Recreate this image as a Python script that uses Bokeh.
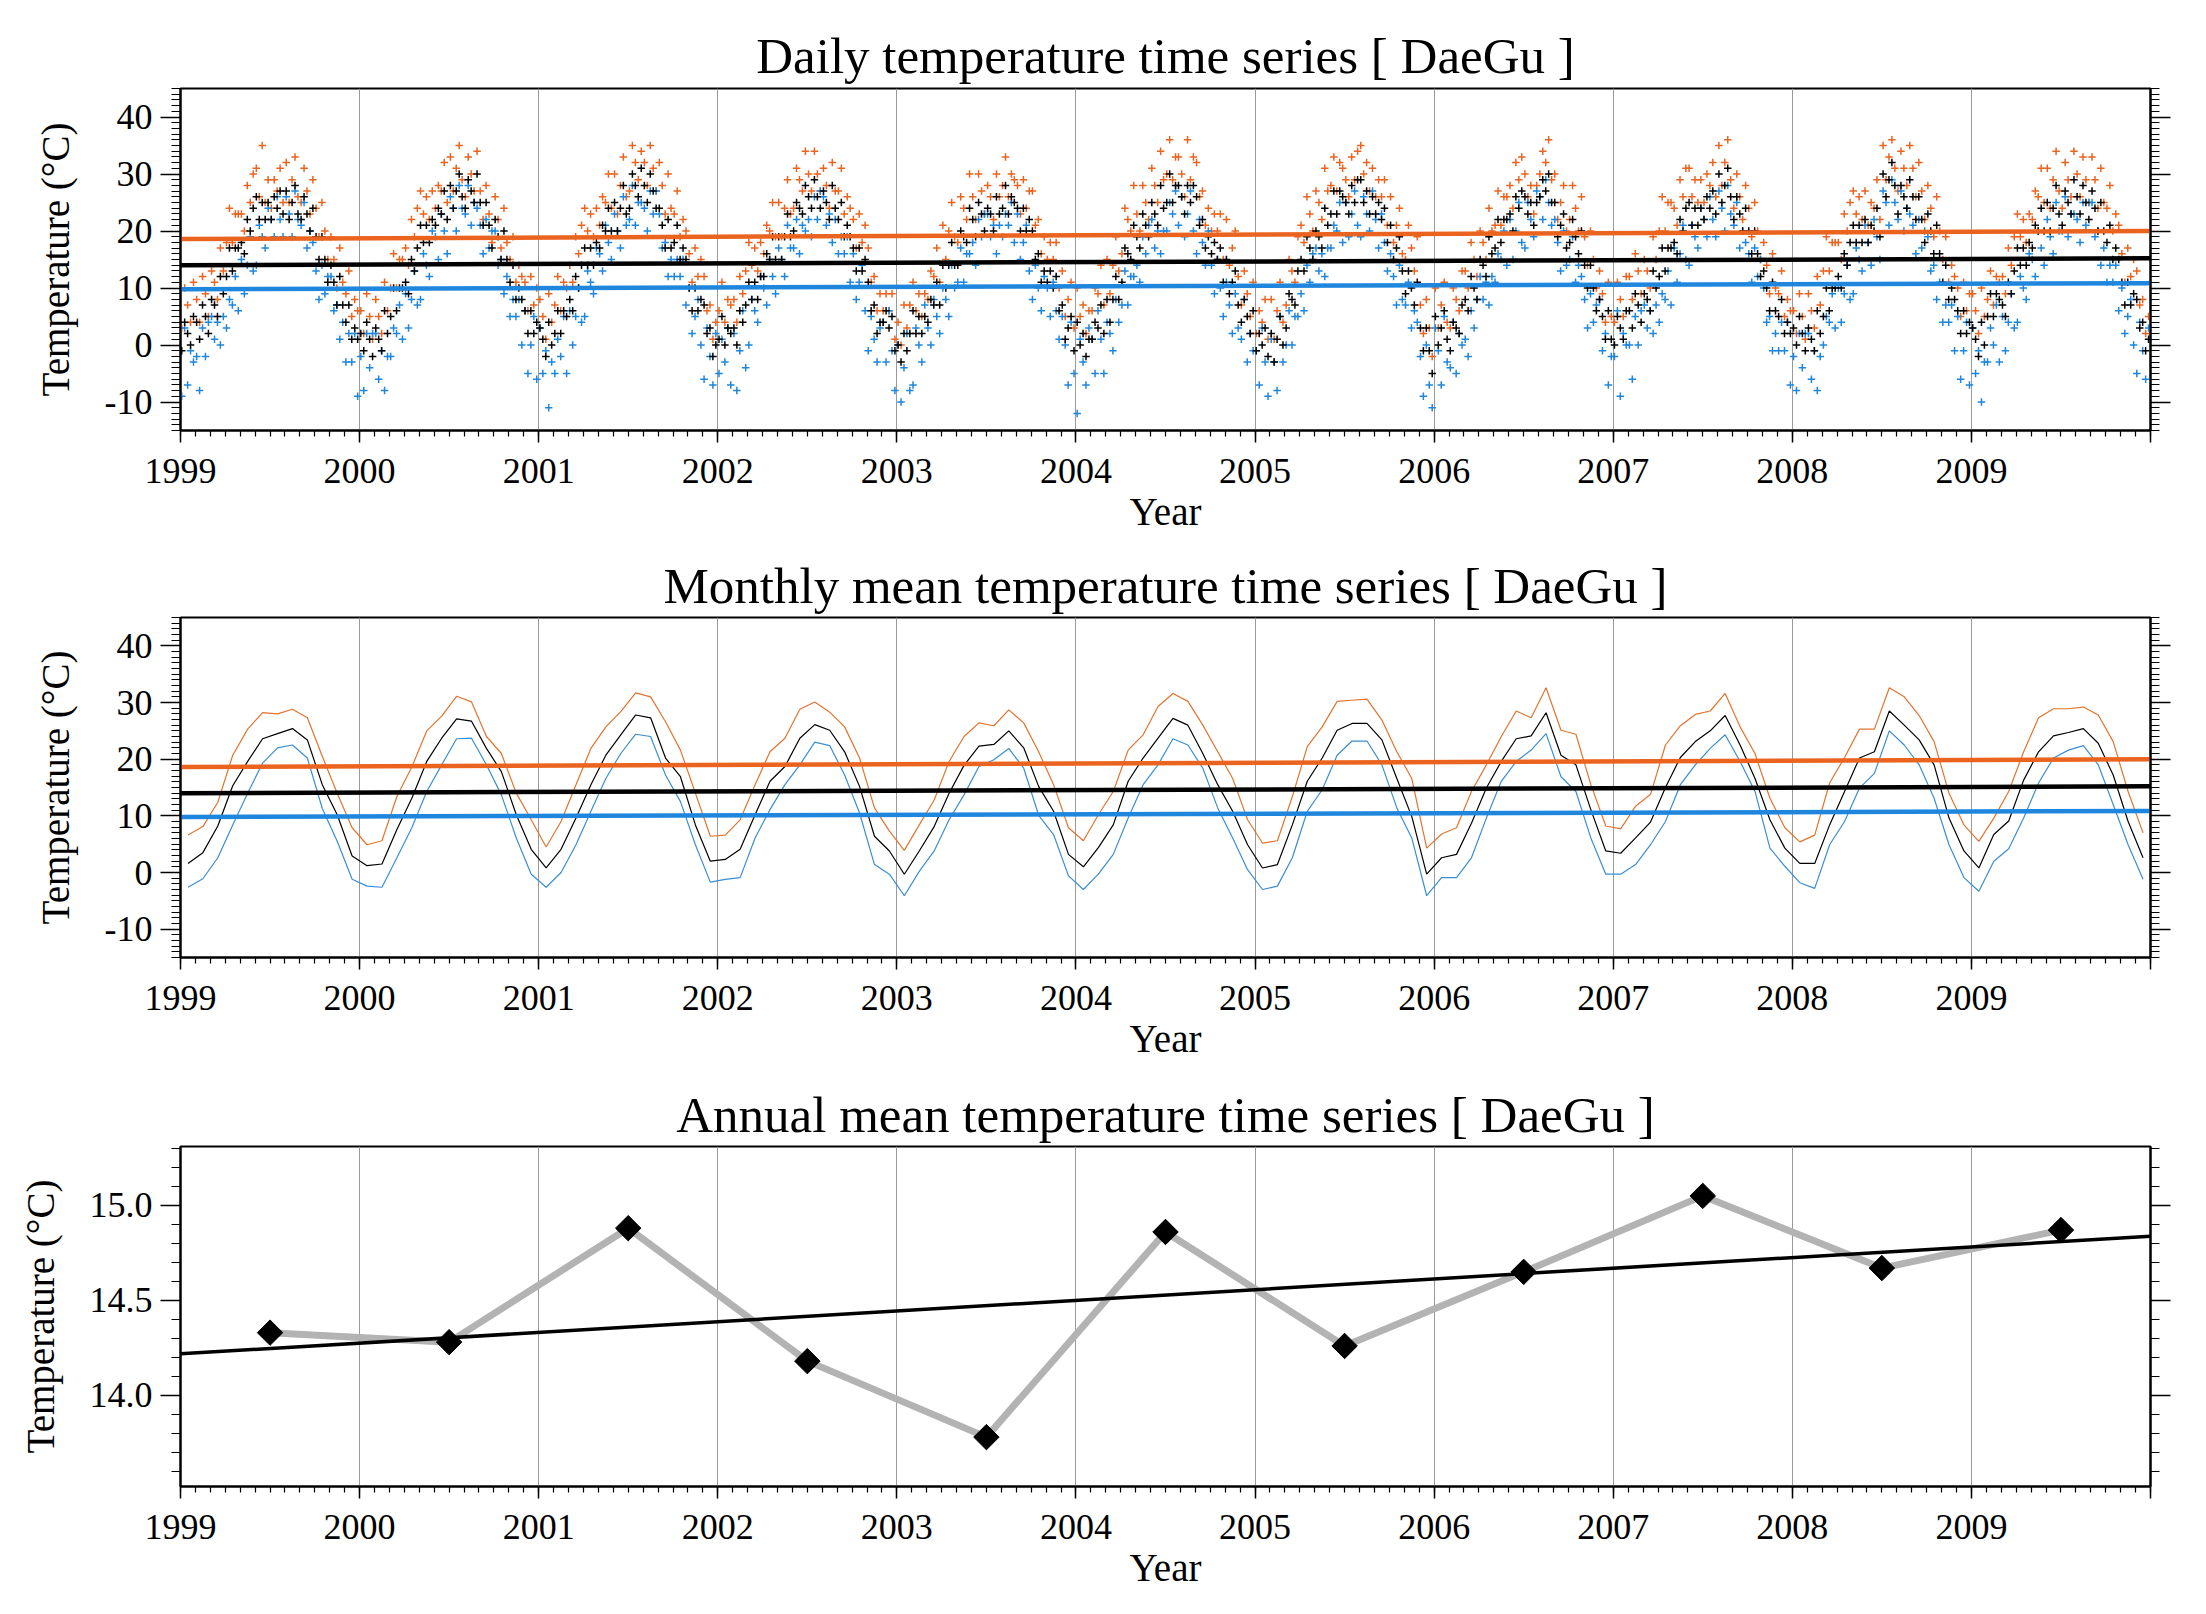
import numpy as np
from bokeh.plotting import figure
from bokeh.layouts import column
from bokeh.models import (FixedTicker, LinearAxis, Range1d, ColumnDataSource,
                          PrintfTickFormatter, CustomJSTickFormatter)
from bokeh.embed import file_html
from bokeh.resources import INLINE

# ---------------- data ----------------
years = list(range(1999, 2010))
obs_days = [3, 9, 15, 21, 27]          # sampled days of each month (daily panel)
year_ticks = list(range(1999, 2011))
temp_ticks = [-10, 0, 10, 20, 30, 40]
annual_ticks = [14.0, 14.5, 15.0]

monthly_max = [
    6.6, 8.1, 12.4, 20.7, 25.3, 28.2, 28.0, 28.8, 27.3, 20.5, 14.0, 7.9,
    4.9, 5.6, 13.4, 18.6, 25.0, 27.6, 31.1, 30.1, 24.0, 21.0, 14.0, 9.3,
    4.5, 9.0, 15.5, 21.9, 25.7, 28.4, 31.7, 31.0, 26.6, 21.6, 14.0, 6.4,
    6.6, 9.3, 15.5, 21.3, 23.7, 28.8, 30.1, 28.3, 25.7, 20.2, 11.4, 7.3,
    3.9, 8.4, 12.8, 19.6, 24.0, 26.4, 25.9, 28.7, 26.4, 21.3, 15.5, 7.9,
    5.6, 10.2, 14.3, 21.6, 24.3, 29.3, 31.6, 30.2, 26.0, 21.3, 16.6, 9.3,
    5.2, 5.6, 13.4, 22.2, 25.7, 30.2, 30.4, 30.6, 26.9, 21.3, 16.6, 4.3,
    6.8, 7.9, 14.3, 19.0, 24.0, 28.5, 27.3, 32.6, 25.1, 24.4, 15.5, 8.2,
    7.7, 11.7, 13.8, 22.5, 25.9, 27.9, 28.5, 31.6, 25.7, 21.0, 13.1, 7.9,
    5.4, 6.6, 15.8, 20.3, 25.3, 25.3, 32.6, 31.0, 27.7, 23.1, 14.0, 8.4,
    5.5, 9.6, 14.3, 21.3, 27.3, 28.9, 28.9, 29.2, 27.8, 23.1, 14.3, 7.0]
monthly_mean = [
    1.6, 3.5, 8.2, 15.3, 19.6, 23.6, 24.5, 25.4, 23.4, 15.5, 10.2, 2.9,
    1.2, 1.5, 7.6, 13.1, 19.6, 23.7, 27.1, 26.7, 21.9, 17.8, 10.2, 4.1,
    0.8, 4.1, 9.6, 15.5, 20.7, 24.3, 27.8, 27.3, 20.2, 16.9, 8.4, 2.0,
    2.3, 4.1, 10.2, 16.1, 18.7, 23.7, 26.1, 25.1, 21.3, 15.2, 6.4, 3.8,
    -0.3, 3.8, 8.1, 14.0, 18.9, 22.3, 22.6, 25.0, 22.0, 15.2, 10.8, 3.2,
    1.0, 4.4, 8.4, 16.1, 20.2, 23.7, 27.2, 26.0, 21.0, 15.5, 10.8, 4.9,
    0.8, 1.4, 8.4, 16.1, 20.2, 25.1, 26.3, 26.3, 23.4, 16.6, 9.9, -0.3,
    2.6, 3.2, 8.7, 14.9, 19.6, 23.6, 24.1, 28.2, 20.7, 19.0, 11.1, 3.8,
    3.4, 6.1, 8.9, 15.0, 20.3, 23.1, 25.0, 27.7, 22.5, 16.6, 9.3, 4.3,
    1.6, 1.6, 8.4, 14.3, 20.2, 21.3, 28.5, 26.0, 23.4, 19.0, 9.6, 3.8,
    0.8, 6.7, 9.1, 16.3, 21.3, 24.1, 24.7, 25.4, 22.8, 17.2, 9.0, 2.6]
monthly_min = [
    -2.6, -1.1, 2.6, 8.4, 14.0, 19.3, 22.0, 22.5, 20.2, 11.3, 5.5, -1.2,
    -2.4, -2.6, 2.6, 7.9, 14.3, 19.0, 23.6, 23.7, 19.0, 13.7, 6.1, -0.3,
    -2.6, 0.0, 4.9, 10.8, 16.6, 21.0, 24.4, 24.0, 17.2, 12.5, 4.9, -1.7,
    -1.2, -0.9, 6.1, 11.1, 15.5, 19.0, 23.0, 22.4, 17.2, 10.5, 1.4, -0.3,
    -4.1, 0.2, 3.8, 9.3, 13.7, 18.7, 19.9, 21.9, 18.4, 10.1, 6.7, -0.6,
    -3.0, -0.3, 3.2, 9.6, 15.5, 19.0, 23.6, 22.5, 18.4, 11.4, 6.1, 0.5,
    -3.0, -2.4, 2.6, 10.8, 14.6, 20.7, 23.2, 23.2, 19.0, 11.4, 6.1, -4.1,
    -0.9, -0.9, 2.6, 9.6, 16.1, 19.6, 21.6, 24.5, 16.9, 14.3, 6.1, -0.3,
    -0.3, 1.4, 4.9, 9.0, 15.5, 19.0, 21.9, 24.3, 19.6, 14.3, 4.3, 1.1,
    -1.8, -2.8, 4.9, 9.0, 14.9, 17.5, 25.0, 22.5, 19.0, 13.1, 4.9, -0.9,
    -3.3, 2.0, 4.2, 9.6, 15.8, 20.2, 21.6, 22.4, 19.0, 12.0, 4.9, -1.2]

annual_mean = [14.33, 14.28, 14.88, 14.18, 13.78, 14.86, 14.26, 14.65, 15.05, 14.67, 14.87]

trend_x = [1999.0, 2010.0]
trend_max = [18.6, 20.0]
trend_mean = [14.0, 15.2]
trend_min = [9.8, 10.85]

daily_max = [
    3, 10, 7, 4, 11, 8, 4, 12, 9, 5, 13, 11, 8, 17, 13, 18, 24, 18, 23, 23, 23, 20, 28, 25, 30, 31, 26, 35, 25, 29, 24, 29, 27, 31, 25, 32, 25, 29, 33, 26, 25, 31, 27, 23, 29, 24, 19, 25, 20, 15, 19, 15, 10, 17, 11, 9, 13, 5, 8, 6,
    6, 2, 9, 5, 1, 8, 5, 2, 11, 6, 10, 16, 10, 15, 15, 17, 14, 22, 19, 24, 27, 23, 26, 22, 27, 24, 28, 27, 32, 25, 33, 27, 31, 35, 29, 26, 33, 30, 27, 34, 27, 22, 28, 23, 18, 26, 22, 17, 24, 18, 15, 19, 11, 14, 12, 11, 6, 12, 7, 10,
    8, 5, 1, 9, 4, 7, 12, 6, 11, 10, 14, 11, 19, 16, 21, 24, 20, 23, 19, 24, 21, 26, 25, 30, 24, 30, 23, 28, 33, 26, 27, 35, 32, 29, 34, 32, 28, 35, 31, 27, 32, 28, 23, 30, 24, 23, 27, 19, 22, 20, 16, 11, 17, 12, 15, 12, 6, 7, 1, 4,
    6, 11, 4, 8, 7, 8, 4, 12, 9, 13, 18, 14, 17, 13, 18, 16, 21, 20, 25, 19, 25, 19, 24, 29, 23, 24, 31, 29, 27, 34, 30, 27, 34, 30, 27, 31, 28, 24, 32, 27, 27, 31, 23, 26, 24, 22, 17, 23, 18, 21, 17, 11, 12, 6, 9, 6, 9, 6, 9, 1,
    4, 0, 7, 3, 7, 11, 6, 9, 5, 9, 8, 13, 12, 17, 11, 21, 15, 20, 25, 19, 18, 26, 24, 22, 30, 26, 22, 30, 27, 23, 28, 26, 22, 30, 26, 28, 33, 26, 30, 29, 28, 23, 29, 24, 27, 27, 21, 22, 16, 19, 15, 18, 15, 18, 10, 13, 5, 8, 11, 3,
    10, 5, 7, 2, 6, 6, 10, 9, 14, 7, 15, 9, 14, 19, 13, 16, 24, 22, 20, 28, 23, 20, 28, 25, 22, 31, 28, 25, 34, 29, 30, 36, 29, 33, 33, 30, 26, 36, 29, 33, 32, 26, 27, 21, 24, 20, 23, 20, 23, 15, 22, 14, 17, 20, 12, 7, 13, 9, 5, 11,
    2, 6, 4, 8, 1, 8, 1, 6, 11, 4, 7, 15, 13, 11, 19, 21, 18, 26, 23, 20, 27, 25, 22, 31, 27, 28, 33, 27, 32, 31, 29, 26, 33, 29, 34, 35, 30, 32, 27, 31, 26, 29, 26, 29, 21, 26, 18, 21, 24, 16, 15, 21, 17, 13, 19, 7, 2, 8, 3, -2,
    10, 3, 7, 11, 4, 3, 10, 8, 6, 13, 13, 10, 18, 15, 12, 20, 18, 15, 24, 20, 21, 27, 21, 26, 26, 28, 24, 32, 29, 33, 30, 26, 28, 23, 28, 30, 34, 32, 36, 29, 30, 22, 25, 28, 20, 22, 28, 24, 20, 26, 19, 14, 20, 15, 10, 13, 9, 4, 11, 5,
    4, 11, 8, 5, 12, 12, 8, 16, 13, 9, 15, 13, 10, 19, 15, 20, 26, 20, 25, 25, 24, 21, 29, 26, 31, 31, 26, 29, 25, 29, 25, 30, 28, 32, 26, 35, 28, 32, 36, 29, 24, 30, 26, 22, 28, 24, 19, 25, 20, 15, 18, 14, 9, 16, 10, 9, 13, 5, 8, 6,
    6, 2, 9, 5, 1, 9, 6, 3, 12, 7, 13, 19, 13, 18, 18, 18, 15, 23, 20, 25, 27, 23, 26, 22, 27, 21, 25, 24, 29, 22, 35, 29, 33, 36, 31, 27, 34, 31, 28, 35, 31, 26, 32, 27, 22, 28, 24, 19, 26, 20, 15, 19, 11, 14, 12, 10, 5, 11, 6, 9,
    9, 6, 2, 10, 5, 8, 13, 7, 12, 11, 12, 9, 17, 14, 19, 23, 19, 22, 18, 23, 22, 27, 26, 31, 25, 31, 24, 29, 34, 27, 24, 32, 29, 26, 34, 30, 26, 33, 29, 25, 33, 29, 24, 31, 25, 24, 28, 20, 23, 21, 16, 11, 17, 12, 15, 13, 7, 8, 2, 5]
daily_mean = [
    -1, 4, 2, 0, 5, 4, 1, 7, 5, 2, 8, 7, 5, 12, 9, 12, 17, 13, 17, 17, 18, 16, 22, 20, 24, 26, 22, 25, 22, 25, 22, 26, 24, 27, 23, 27, 22, 25, 28, 23, 22, 26, 23, 20, 24, 19, 15, 19, 15, 11, 14, 11, 7, 12, 7, 4, 7, 1, 3, 1,
    2, -1, 4, 1, -2, 3, 1, -1, 6, 2, 5, 10, 6, 10, 10, 11, 9, 15, 13, 17, 21, 18, 21, 18, 22, 21, 24, 23, 27, 22, 28, 24, 27, 30, 26, 24, 29, 27, 25, 30, 25, 21, 25, 21, 17, 22, 19, 15, 20, 15, 11, 14, 8, 10, 8, 6, 2, 6, 2, 4,
    3, 1, -2, 4, 0, 2, 6, 2, 6, 5, 8, 6, 12, 10, 14, 17, 14, 17, 14, 18, 17, 21, 20, 24, 20, 25, 20, 24, 28, 23, 24, 30, 28, 26, 31, 28, 25, 30, 27, 24, 24, 21, 17, 22, 17, 18, 21, 15, 17, 15, 10, 6, 10, 6, 8, 7, 2, 3, -2, 0,
    1, 5, 0, 3, 2, 3, 0, 6, 4, 7, 11, 8, 11, 8, 12, 12, 16, 15, 19, 15, 19, 15, 19, 23, 19, 20, 25, 24, 23, 28, 26, 24, 29, 26, 24, 27, 25, 22, 28, 24, 22, 25, 19, 21, 19, 17, 13, 17, 13, 15, 11, 6, 7, 2, 4, 4, 6, 3, 5, -1,
    0, -3, 2, -1, 2, 6, 2, 5, 2, 5, 4, 8, 7, 11, 7, 14, 10, 14, 18, 14, 14, 20, 19, 18, 24, 22, 19, 25, 23, 20, 24, 23, 20, 26, 23, 24, 28, 23, 26, 25, 24, 20, 24, 20, 22, 20, 15, 16, 11, 13, 11, 13, 10, 12, 6, 7, 1, 3, 5, -1,
    4, 0, 2, -2, 1, 1, 4, 3, 7, 2, 8, 4, 8, 12, 8, 11, 17, 16, 15, 21, 19, 17, 23, 21, 19, 25, 23, 21, 28, 24, 25, 30, 25, 28, 28, 26, 23, 28, 25, 28, 26, 21, 22, 17, 19, 16, 18, 15, 17, 11, 15, 9, 11, 13, 7, 4, 8, 5, 2, 6,
    -1, 2, 0, 3, -2, 2, -3, 1, 5, 0, 3, 9, 8, 7, 13, 15, 13, 19, 17, 15, 20, 19, 17, 24, 21, 23, 27, 23, 27, 26, 25, 23, 28, 25, 29, 29, 25, 27, 23, 26, 23, 25, 22, 24, 18, 21, 15, 17, 19, 13, 9, 13, 10, 7, 11, 3, -1, 3, -1, -5,
    5, 0, 3, 6, 1, -1, 4, 3, 2, 7, 8, 6, 12, 10, 8, 15, 14, 12, 19, 16, 17, 22, 18, 22, 22, 23, 20, 26, 24, 27, 26, 23, 25, 21, 25, 26, 29, 27, 30, 25, 25, 19, 21, 23, 17, 18, 22, 19, 16, 20, 14, 10, 14, 10, 6, 8, 5, 1, 6, 1,
    0, 5, 3, 1, 6, 6, 3, 9, 7, 4, 9, 8, 6, 13, 10, 12, 17, 13, 17, 17, 18, 16, 22, 20, 24, 25, 21, 24, 21, 24, 22, 26, 24, 27, 23, 30, 25, 28, 31, 26, 22, 26, 23, 20, 24, 20, 16, 20, 16, 12, 13, 10, 6, 11, 6, 5, 8, 2, 4, 2,
    3, 0, 5, 2, -1, 3, 1, -1, 6, 2, 5, 10, 6, 10, 10, 12, 10, 16, 14, 18, 21, 18, 21, 18, 22, 18, 21, 20, 24, 19, 30, 26, 29, 32, 28, 23, 28, 26, 24, 29, 26, 22, 26, 22, 18, 23, 20, 16, 21, 16, 11, 14, 8, 10, 8, 6, 2, 6, 2, 4,
    3, 1, -2, 4, 0, 5, 9, 5, 9, 8, 7, 5, 11, 9, 13, 17, 14, 17, 14, 18, 17, 21, 20, 24, 20, 25, 20, 24, 28, 23, 21, 27, 25, 23, 29, 26, 23, 28, 25, 22, 27, 24, 20, 25, 20, 18, 21, 15, 17, 15, 11, 7, 11, 7, 9, 8, 3, 4, -1, 1]
daily_min = [
    -9, 3, -7, -1, -3, -2, -8, 3, -2, 4, 5, 1, 4, 0, 5, 3, 8, 7, 12, 6, 15, 9, 14, 19, 13, 14, 21, 19, 17, 24, 22, 19, 26, 22, 19, 26, 23, 19, 27, 22, 21, 25, 17, 20, 18, 13, 8, 14, 9, 12, 12, 6, 7, 1, 4, -3, 2, -3, 2, -9,
    -2, -8, 2, -4, 2, 2, -6, -1, -8, -2, -2, 3, 2, 7, 1, 9, 3, 8, 13, 7, 8, 16, 14, 12, 20, 19, 15, 23, 20, 16, 26, 24, 20, 28, 24, 23, 28, 21, 25, 24, 21, 16, 22, 17, 20, 20, 14, 15, 9, 12, 5, 8, 5, 8, 0, 6, -5, 0, 5, -6,
    3, -5, -1, -11, -3, -5, 1, -2, 5, -5, 6, 0, 5, 10, 4, 5, 13, 11, 9, 17, 16, 13, 21, 18, 15, 23, 20, 17, 26, 21, 22, 28, 21, 25, 25, 24, 20, 27, 23, 27, 23, 17, 18, 12, 15, 12, 15, 12, 15, 7, 10, 2, 5, 8, 0, -6, 3, -2, -7, 2,
    -5, 1, -3, 3, -7, 2, -8, -1, 6, -4, 0, 8, 6, 4, 12, 10, 7, 15, 12, 9, 17, 15, 12, 21, 17, 17, 22, 16, 21, 20, 22, 19, 26, 22, 27, 26, 21, 23, 18, 22, 16, 19, 16, 19, 11, 16, 8, 11, 14, 6, -1, 5, 1, -3, 3, 4, -3, 6, -1, -8,
    0, -10, -4, 2, -8, -7, 3, 0, -3, 7, 3, 0, 8, 5, 2, 10, 8, 5, 14, 10, 11, 17, 11, 16, 16, 18, 14, 22, 19, 23, 23, 19, 21, 16, 21, 19, 23, 21, 25, 18, 23, 15, 18, 21, 13, 8, 14, 10, 6, 12, 10, 5, 11, 6, 1, 5, 0, -7, 4, -5,
    -12, 1, -3, -7, 3, 1, -5, 6, 1, -5, 4, 2, -1, 8, 4, 7, 13, 7, 12, 12, 14, 11, 19, 16, 21, 22, 17, 20, 16, 20, 20, 25, 23, 27, 21, 26, 19, 23, 27, 20, 16, 22, 18, 14, 20, 14, 9, 15, 10, 5, 11, 7, 2, 9, 3, 1, 8, -3, 2, -1,
    -1, -7, 3, -3, -9, 1, -3, -8, 5, -3, 0, 6, 0, 5, 5, 9, 6, 14, 11, 16, 17, 13, 16, 12, 17, 17, 21, 20, 25, 18, 25, 19, 23, 27, 21, 19, 26, 23, 20, 27, 22, 17, 23, 18, 13, 16, 12, 7, 14, 8, 7, 11, 3, 6, 4, -2, -9, 0, -7, -11,
    3, -1, -7, 5, -3, -4, 4, -5, 2, 0, 1, -2, 6, 3, 8, 12, 8, 11, 7, 12, 11, 16, 15, 20, 14, 22, 15, 20, 25, 18, 17, 25, 22, 19, 27, 26, 22, 29, 25, 21, 22, 18, 13, 20, 14, 15, 19, 11, 14, 12, 8, 3, 9, 4, 7, 8, -1, 2, -7, -2,
    -2, 6, -9, 2, 0, 0, -6, 5, 0, 6, 7, 3, 6, 2, 7, 4, 9, 8, 13, 7, 17, 11, 16, 21, 15, 14, 21, 19, 17, 24, 22, 19, 26, 22, 19, 27, 24, 20, 28, 23, 21, 25, 17, 20, 18, 16, 11, 17, 12, 15, 10, 4, 5, -1, 2, -1, 4, -1, 4, -7,
    -2, -8, 2, -4, 2, 2, -6, -1, -8, -2, 0, 5, 4, 9, 3, 10, 4, 9, 14, 8, 9, 17, 15, 13, 21, 18, 14, 22, 19, 15, 27, 25, 21, 29, 25, 22, 27, 20, 24, 23, 21, 16, 22, 17, 20, 19, 13, 14, 8, 11, 4, 7, 4, 7, -1, 5, -6, -1, 4, -7,
    3, -5, -1, -10, -3, -3, 3, 0, 7, -3, 5, -1, 4, 9, 3, 4, 12, 10, 8, 16, 15, 12, 20, 17, 14, 22, 19, 16, 25, 20, 20, 26, 19, 23, 23, 22, 18, 25, 21, 25, 25, 19, 20, 14, 17, 11, 14, 11, 14, 6, 10, 2, 5, 8, 0, -5, 4, -1, -6, 3]

# ---------------- derived positions (decimal years) ----------------
daily_x = [y + (m + (d - 0.5) / 30.44) / 12.0 for y in years for m in range(12) for d in obs_days]
monthly_x = [y + (m + 0.5) / 12.0 for y in years for m in range(12)]
annual_x = [y + 0.5 for y in years]
assert len(daily_x) == len(daily_max) == len(daily_mean) == len(daily_min)

# ---------------- style ----------------
FONT = "Liberation Serif"
ORANGE = "#EA6420"
BLUE = "#1F86DE"
ORANGE_M = "#E2742F"
BLUE_M = "#3A8ED4"
W = 2190
minor_months = [1999 + k / 12.0 for k in range(133)]


def make_fig(title, height, top, bottom, yr, yticks, yminor, yfmt, title_standoff):
    p = figure(width=W, height=height, x_range=Range1d(1999, 2010), y_range=Range1d(*yr),
               output_backend="svg", toolbar_location=None,
               min_border_left=180, min_border_right=40,
               min_border_top=top, min_border_bottom=bottom,
               x_axis_label="Year", y_axis_label="Temperature (°C)", title=title)
    p.title.align = "center"
    p.title.text_font = FONT
    p.title.text_font_size = "51px"
    p.title.text_font_style = "normal"
    p.title.text_color = "black"
    p.title.standoff = title_standoff
    p.outline_line_color = "black"
    p.outline_line_width = 2
    p.background_fill_color = "white"
    p.border_fill_color = "white"

    xt = FixedTicker(ticks=year_ticks, minor_ticks=minor_months)
    yt = FixedTicker(ticks=yticks, minor_ticks=yminor)

    xa = p.xaxis[0]
    xa.ticker = xt
    xa.formatter = PrintfTickFormatter(format="%d")
    xa.major_label_overrides = {2010: ""}
    xa.major_tick_out = 12
    xa.major_tick_in = 0
    xa.minor_tick_out = 6
    xa.minor_tick_in = 0
    xa.major_label_standoff = 16
    xa.axis_label_standoff = 4

    ya = p.yaxis[0]
    ya.ticker = yt
    ya.formatter = yfmt
    ya.major_tick_out = 20
    ya.major_tick_in = 0
    ya.minor_tick_out = 9
    ya.minor_tick_in = 0
    ya.major_label_standoff = 8
    ya.axis_label_standoff = 25

    ra = LinearAxis(ticker=yt, formatter=CustomJSTickFormatter(code="return ''"))
    ra.major_tick_out = 20
    ra.major_tick_in = 0
    ra.minor_tick_out = 9
    ra.minor_tick_in = 0
    p.add_layout(ra, "right")

    for ax in (xa, ya, ra):
        ax.axis_line_width = 2
        ax.axis_line_color = "black"
        ax.major_tick_line_width = 1.5
        ax.minor_tick_line_width = 1.2
        ax.major_tick_line_color = "black"
        ax.minor_tick_line_color = "black"
        ax.major_label_text_font = FONT
        ax.major_label_text_font_size = "36px"
        ax.major_label_text_color = "black"
        ax.axis_label_text_font = FONT
        ax.axis_label_text_font_size = "39px"
        ax.axis_label_text_font_style = "normal"
        ax.axis_label_text_color = "black"

    p.xgrid.ticker = FixedTicker(ticks=year_ticks)
    p.xgrid.grid_line_color = "#9a9a9a"
    p.xgrid.grid_line_width = 1
    p.ygrid.visible = False
    return p


# ---------------- panel 1: daily ----------------
p1 = make_fig("Daily temperature time series [ DaeGu ]", 550, 88, 120, (-15, 45),
              temp_ticks, list(range(-15, 46)), PrintfTickFormatter(format="%d"), 9)
src_d = ColumnDataSource(dict(x=daily_x, tmax=daily_max, tmean=daily_mean, tmin=daily_min))
p1.scatter("x", "tmax", source=src_d, marker="cross", size=7.5, line_width=1.5, line_color=ORANGE)
p1.scatter("x", "tmin", source=src_d, marker="cross", size=7.5, line_width=1.5, line_color=BLUE)
p1.scatter("x", "tmean", source=src_d, marker="cross", size=7.5, line_width=1.5, line_color="black")
p1.line(trend_x, trend_max, line_color=ORANGE, line_width=4.5)
p1.line(trend_x, trend_mean, line_color="black", line_width=4.5)
p1.line(trend_x, trend_min, line_color=BLUE, line_width=4.5)

# ---------------- panel 2: monthly ----------------
p2 = make_fig("Monthly mean temperature time series [ DaeGu ]", 527, 67, 120, (-15, 45),
              temp_ticks, list(range(-15, 46)), PrintfTickFormatter(format="%d"), 7)
src_m = ColumnDataSource(dict(x=monthly_x, tmax=monthly_max, tmean=monthly_mean, tmin=monthly_min))
p2.line("x", "tmax", source=src_m, line_color=ORANGE_M, line_width=1.2)
p2.line("x", "tmean", source=src_m, line_color="black", line_width=1.2)
p2.line("x", "tmin", source=src_m, line_color=BLUE_M, line_width=1.2)
p2.line(trend_x, trend_max, line_color=ORANGE, line_width=4.5)
p2.line(trend_x, trend_mean, line_color="black", line_width=4.5)
p2.line(trend_x, trend_min, line_color=BLUE, line_width=4.5)

# ---------------- panel 3: annual ----------------
p3 = make_fig("Annual mean temperature time series [ DaeGu ]", 529, 69, 120, (13.52, 15.31),
              annual_ticks, [round(13.6 + 0.1 * i, 1) for i in range(18)],
              PrintfTickFormatter(format="%.1f"), 8)
slope, icpt = np.polyfit(annual_x, annual_mean, 1)
fit_y = [slope * x + icpt for x in trend_x]
p3.line(annual_x, annual_mean, line_color="#b3b3b3", line_width=7)
p3.line(trend_x, fit_y, line_color="black", line_width=3.5)
p3.scatter(annual_x, annual_mean, marker="square", angle=np.pi / 4, size=18,
           fill_color="black", line_color="black")

layout = column(p1, p2, p3, spacing=0)
open("out.html", "w").write(file_html(layout, INLINE))
